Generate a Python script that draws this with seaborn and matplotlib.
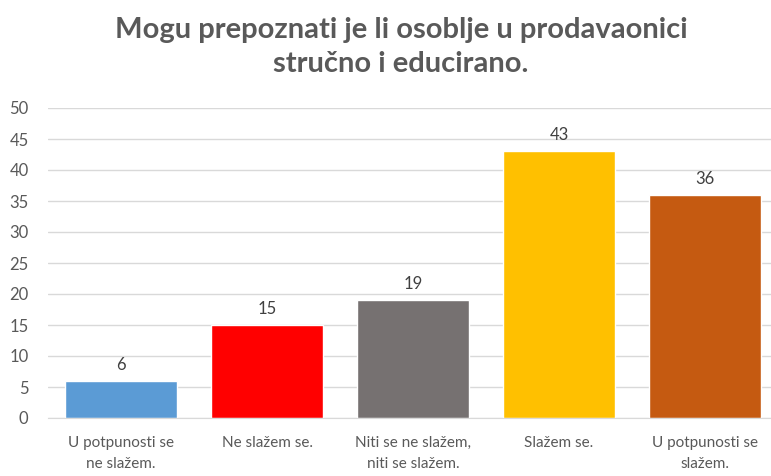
import matplotlib.pyplot as plt
import seaborn as sns
import pandas as pd

# Podaci
kategorije = ["U potpunosti se\nne slažem.", "Ne slažem se.", "Niti se ne slažem,\nniti se slažem.",
              "Slažem se.", "U potpunosti se\nslažem."]
vrijednosti = [6, 15, 19, 43, 36]
boje = ["#5B9BD5", "#FF0000", "#767171", "#FFC000", "#C55A11"]
y_ticks = [0, 5, 10, 15, 20, 25, 30, 35, 40, 45, 50]

df = pd.DataFrame({"kategorija": kategorije, "vrijednost": vrijednosti})

sns.set_style("white")
plt.rcParams["font.family"] = ["Lato", "DejaVu Sans"]

fig = plt.figure(figsize=(7.71, 4.76), dpi=100)
ax = fig.add_axes([48 / 771, 58 / 476, 730 / 771, 310 / 476])

sns.barplot(data=df, x="kategorija", y="vrijednost", hue="kategorija", palette=boje,
            width=0.77, legend=False, ax=ax, saturation=1)

ax.set_ylim(0, 50)
ax.set_yticks(y_ticks)
ax.yaxis.grid(True, color="#D9D9D9", linewidth=1)
ax.set_axisbelow(True)
for s in ["top", "right", "left"]:
    ax.spines[s].set_visible(False)
ax.spines["bottom"].set_color("#D9D9D9")
ax.tick_params(axis="y", length=0, colors="#595959", labelsize=12, pad=14)
ax.tick_params(axis="x", length=0, colors="#595959", labelsize=11, pad=13)
for lbl in ax.get_xticklabels():
    lbl.set_linespacing(1.65)
ax.set_xlabel("")
ax.set_ylabel("")

for i, v in enumerate(vrijednosti):
    ax.text(i, v + 1.3, str(v), ha="center", va="bottom", fontsize=12, color="#404040")

fig.text(0.52, 0.965, "Mogu prepoznati je li osoblje u prodavaonici\nstručno i educirano.",
         ha="center", va="top", fontsize=21, fontweight="bold", color="#595959",
         linespacing=1.4)

plt.savefig("out.png", dpi=100)
